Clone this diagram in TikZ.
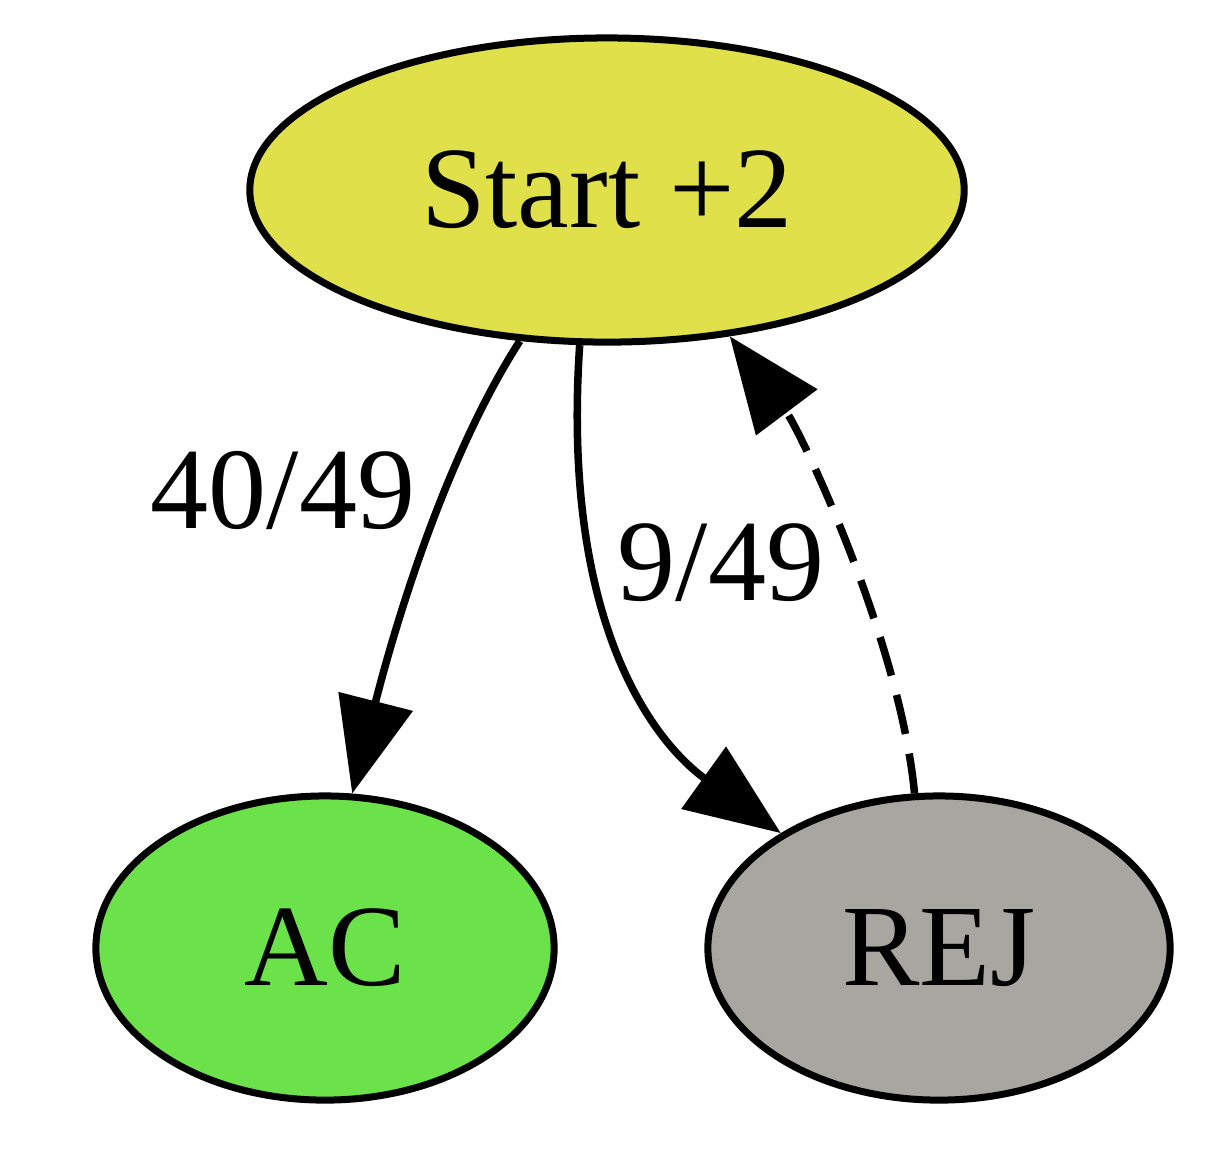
\documentclass[tikz,border=0pt]{standalone}
\usepackage{fontspec}
\setmainfont{Liberation Serif}
\usetikzlibrary{arrows.meta}
\usetikzlibrary{shapes}

\definecolor{startYellow}{RGB}{224,224,74}
\definecolor{acGreen}{RGB}{107,226,74}
\definecolor{rejGray}{RGB}{168,166,160}

\begin{document}
\begin{tikzpicture}[x = 0.01cm, y = -0.01cm, font=\fontsize{33}{40}\selectfont]
	\tikzstyle{stateStyle} = [shape = ellipse, draw, line width = 0.07cm, inner sep = 0pt, minimum height = 3.04cm]
	\tikzstyle{edgeStyle} = [line width = 0.075cm, -{Triangle[length = 0.95cm, width = 0.75cm]}]
	\tikzstyle{backStyle} = [edgeStyle, dash pattern = on 0.4cm off 0.2cm]
	\useasboundingbox (0,0) rectangle (1228,1162);
	\node[stateStyle, fill = startYellow, minimum width = 7.14cm] (start) at (607,190) {Start +2};
	\node[stateStyle, fill = acGreen, minimum width = 4.58cm] (ac) at (325,948) {AC};
	\node[stateStyle, fill = rejGray, minimum width = 4.62cm] (rej) at (939,948) {REJ};
	\node (lab40) at (283,490) {40/49};
	\node (lab9) at (721,563) {9/49};
	\draw[edgeStyle] (start.240) .. controls (440,465) and (390,645) .. (ac.80);
	\draw[edgeStyle] (start.260) .. controls (560,640) and (665,750) .. (rej.144);
	\draw[backStyle] (rej.99) .. controls (900,640) and (800,430) .. (start.310);
\end{tikzpicture}
\end{document}
